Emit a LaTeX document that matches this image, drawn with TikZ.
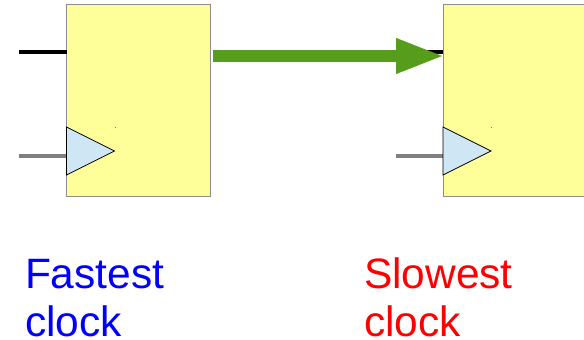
\documentclass[tikz,border=0pt]{standalone}
\usepackage{fontspec}
\setmainfont{Liberation Sans}
\usetikzlibrary{arrows.meta,calc}
\definecolor{boxfill}{HTML}{FFFF99}
\definecolor{tri}{HTML}{CFE7F5}
\definecolor{grn}{HTML}{579D1C}
\tikzset{
  x=1pt,y=-1pt,
  ff/.style={draw=black!45,line width=0.9pt,fill=boxfill,inner sep=0,outer sep=0,minimum width=144pt,minimum height=191.5pt},
  clk/.style={draw=black,line width=0.8pt,fill=tri,line join=miter},
  datawire/.style={line width=4pt,black},
  clkwire/.style={line width=4pt,black!50},
  bigarrow/.style={grn,line width=12pt,-{Triangle[length=49pt,width=32pt]},shorten >=0pt},
  caption/.style={font=\fontsize{42.5}{48}\selectfont,align=left,anchor=north west,inner sep=0,outer sep=0},
  speck/.style={fill=black!55,inner sep=0,minimum size=1pt,shape=rectangle}
}
\begin{document}
\begin{tikzpicture}
\useasboundingbox (0,0) rectangle (584,340);
\clip (0,0) rectangle (584,340);
\coordinate (d1) at (19,52);
\coordinate (c1) at (19,156);
\coordinate (d2) at (396,52);
\coordinate (c2) at (396,156);
\node[ff] (A) at (138.5,100.2) {};
\node[ff] (B) at (515,100.2) {};
\draw[datawire] (d1) -- (d1 -| A.west);
\draw[clkwire] (c1) -- (c1 -| A.west);
\draw[datawire] (d2) -- (d2 -| B.west);
\draw[clkwire] (c2) -- (c2 -| B.west);
\draw[clk] (66.5,127) -- (114.5,151) -- (66.5,175) -- cycle;
\draw[clk] (443,127) -- (491,151) -- (443,175) -- cycle;
\node[speck] (s1) at (115,127) {};
\node[speck] (s2) at (491.5,127) {};
\coordinate (aS) at (213,56);
\coordinate (aE) at (445,56);
\draw[bigarrow] (aS) -- (aE);
\node[caption,text=blue] (f) at (25,256) {\rule{0pt}{32pt}Fastest\\clock};
\node[caption,text=red] (g) at (364,256) {\rule{0pt}{32pt}Slowest\\clock};
\end{tikzpicture}
\end{document}
